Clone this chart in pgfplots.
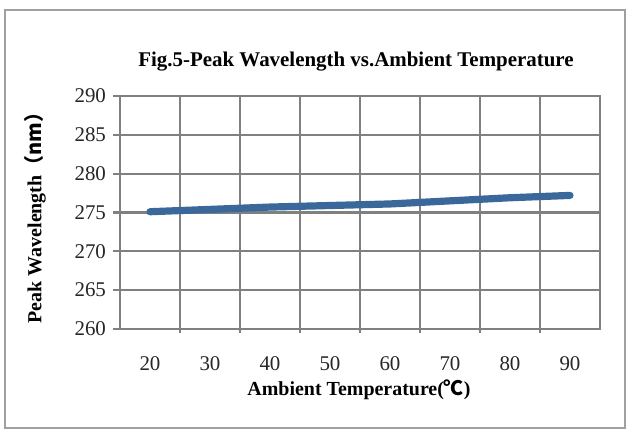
\documentclass[border=0pt]{standalone}
\usepackage{fontspec}
\setmainfont{Liberation Serif}
\newfontfamily\cjk{Noto Sans CJK SC}
\usepackage{pgfplots}
\usepackage{pgfplotstable}
\pgfplotsset{compat=1.18}

\definecolor{gridgray}{RGB}{128,128,128}
\definecolor{framegray}{RGB}{160,160,160}
\definecolor{lineblue}{RGB}{58,104,155}

% peak wavelength (nm) against ambient temperature (C)
\pgfplotstableread{
T lambda
20 275.1
30 275.4
40 275.7
50 275.9
60 276.1
70 276.5
80 276.9
90 277.2
}\peakdata

\begin{document}
\begin{tikzpicture}
  % canvas and outer frame
  \path (-60bp,-50.5bp) rectangle (253.5bp,164.5bp);
  \draw[framegray, line width=1bp] (-57.5bp,-49.5bp) rectangle (252.5bp,159.5bp);

  \begin{axis}[
      scale only axis,
      width=240bp, height=116.5bp,
      at={(0,0)}, anchor=south west,
      xmin=15, xmax=95,
      ymin=260, ymax=290,
      xtick={20,30,...,90},
      minor xtick={25,35,...,85},
      ytick={260,265,...,290},
      xminorgrids, ymajorgrids,
      tick align=outside,
      major tick length=3.5bp,
      minor tick length=2bp,
      major x tick style={draw=none},
      tick style={gridgray, line width=1.1bp},
      grid style={gridgray, line width=1.1bp},
      axis line style={gridgray, line width=1.1bp},
      xtick pos=bottom, ytick pos=left,
      ticklabel style={font=\fontsize{10.5}{12}\selectfont, text=black!85},
      xticklabel style={yshift=-7bp},
      /pgf/number format/assume math mode=true,
    ]
    \addplot[lineblue, line width=3.6bp, line cap=round] table[x=T, y=lambda] {\peakdata};
  \end{axis}

  \node[font=\bfseries\fontsize{10.5}{12}\selectfont] at (118bp,133.5bp)
    {Fig.5-Peak Wavelength vs.Ambient Temperature};
  \node[font=\bfseries\fontsize{10}{12}\selectfont] at (119.5bp,-30.5bp)
    {Ambient Temperature({\cjk ℃})};
  \node[font=\bfseries\fontsize{10}{12}\selectfont, rotate=90] at (-42.5bp,58bp)
    {Peak Wavelength{\cjk （nm）}};
\end{tikzpicture}
\end{document}
